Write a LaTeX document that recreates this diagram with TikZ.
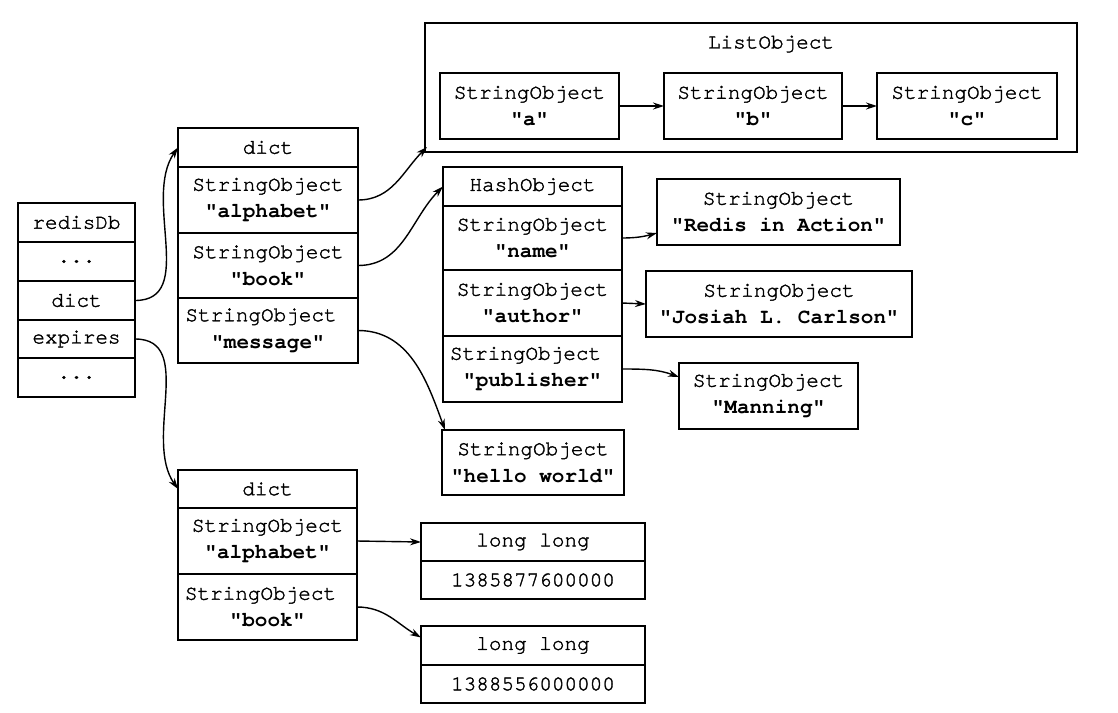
\documentclass[tikz,border=0pt]{standalone}
\usepackage{fontspec}
\setmonofont{TeX Gyre Cursor}[FakeBold=1.6]
\newfontfamily\bldtt{texgyrecursor-bold.otf}
\newcommand\q[1]{{\bldtt #1}}
\usetikzlibrary{arrows.meta}
\newcommand\mkcell[6]{\node[cell, minimum width={#4-#2}, minimum height={#5-#3}] (#1) at (#2,-#3) {#6};}
\begin{document}
\begin{tikzpicture}[x=1pt,y=1pt,
  cell/.style={draw, line width=2pt, rectangle, inner sep=0pt, outer sep=0pt, anchor=north west, align=center, font=\fontsize{21}{27}\selectfont\ttfamily},
  lbl/.style={inner sep=0pt, font=\fontsize{21}{27}\selectfont\ttfamily},
  arr/.style={-{Stealth[length=11pt,width=7pt]}, line width=1.4pt}]
\useasboundingbox (0,0) rectangle (1118,-712);
% redisDb
\mkcell{db-head}{18}{203}{135}{242}{redisDb}
\mkcell{db-dots1}{18}{242}{135}{281}{...}
\mkcell{db-dict}{18}{281}{135}{320}{dict}
\mkcell{db-exp}{18}{320}{135}{358}{expires}
\mkcell{db-dots2}{18}{358}{135}{397}{...}
% dict 1
\mkcell{d1-head}{178}{128}{358}{167}{dict}
\mkcell{d1-alpha}{178}{167}{358}{233}{StringObject\\\q{"alphabet"}}
\mkcell{d1-book}{178}{233}{358}{298}{StringObject\\\q{"book"}}
\mkcell{d1-msg}{178}{298}{358}{363}{\hspace*{-14pt}StringObject\\\q{"message"}}
% list object
\mkcell{list}{425}{23}{1077}{152}{}
\node[lbl] (list-title) at (771,-44) {ListObject};
\mkcell{la}{440}{73}{619}{139}{StringObject\\\q{"a"}}
\mkcell{lb}{664}{73}{842}{139}{StringObject\\\q{"b"}}
\mkcell{lc}{877}{73}{1057}{139}{StringObject\\\q{"c"}}
% hash object
\mkcell{h-head}{443}{167}{622}{206}{HashObject}
\mkcell{h-name}{443}{206}{622}{270}{StringObject\\\q{"name"}}
\mkcell{h-auth}{443}{270}{622}{336}{StringObject\\\q{"author"}}
\mkcell{h-pub}{443}{336}{622}{402}{\hspace*{-14pt}StringObject\\\q{"publisher"}}
\mkcell{redis}{657}{179}{900}{245}{StringObject\\\q{"Redis in Action"}}
\mkcell{josiah}{646}{271}{912}{337}{StringObject\\\q{"Josiah L. Carlson"}}
\mkcell{manning}{679}{363}{858}{429}{StringObject\\\q{"Manning"}}
\mkcell{hello}{442}{430}{624}{495}{StringObject\\\q{"hello world"}}
% dict 2
\mkcell{d2-head}{178}{470}{357}{508}{dict}
\mkcell{d2-alpha}{178}{508}{357}{574}{StringObject\\\q{"alphabet"}}
\mkcell{d2-book}{178}{574}{357}{640}{\hspace*{-14pt}StringObject\\\q{"book"}}
\mkcell{ll1a}{421}{523}{645}{561}{long long}
\mkcell{ll1b}{421}{561}{645}{599}{1385877600000}
\mkcell{ll2a}{421}{626}{645}{665}{long long}
\mkcell{ll2b}{421}{665}{645}{703}{1388556000000}
% connectors
\draw[arr] (db-dict.east) to[out=0,in=235] (d1-head.west);
\draw[arr] (db-exp.east) to[out=0,in=125] (d2-head.west);
\draw[arr] (d1-alpha.east) to[out=0,in=225] ([shift={(2pt,5pt)}]list.south west);
\draw[arr] (d1-book.east) to[out=0,in=225] (h-head.west);
\draw[arr] (d1-msg.east) to[out=0,in=110] ([xshift=3pt]hello.north west);
\draw[arr] (la.east) -- (lb.west);
\draw[arr] (lb.east) -- (lc.west);
\draw[arr] (h-name.east) to[out=0,in=195] ([yshift=-21pt]redis.west);
\draw[arr] (h-auth.east) -- (josiah.west);
\draw[arr] (h-pub.east) to[out=0,in=160] ([yshift=19pt]manning.west);
\draw[arr] (d2-alpha.east) -- (ll1a.west);
\draw[arr] (d2-book.east) to[out=0,in=150] ([yshift=8pt]ll2a.west);
\end{tikzpicture}
\end{document}
